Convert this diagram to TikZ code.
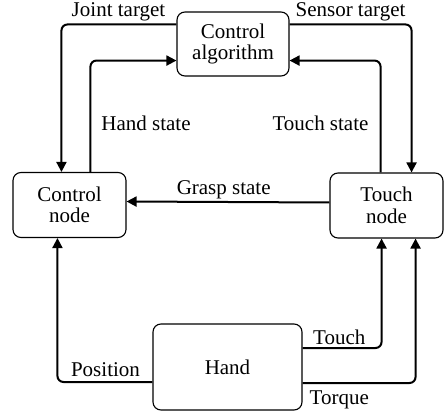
\documentclass[tikz,border=0pt]{standalone}
\usepackage{fontspec}
\setmainfont{Liberation Serif}
\usetikzlibrary{arrows.meta,calc}
\begin{document}
\begin{tikzpicture}[x=1pt,y=1pt,
  every node/.style={font=\fontsize{21}{21.5}\selectfont, inner sep=0pt},
  block/.style={draw, line width=1.1pt, rounded corners=8pt, align=center},
  conn/.style={line width=2pt, rounded corners=6pt, -{Triangle[length=10pt,width=10pt]}},
  lbl/.style={anchor=base}]
\useasboundingbox (0,0) rectangle (444,-414);

% blocks
\node[block, minimum width=112pt, minimum height=64pt] (alg) at (233,-44) {Control\\algorithm};
\node[block, minimum width=113pt, minimum height=65pt] (ctrl) at (69.5,-205) {Control\\node};
\node[block, minimum width=113pt, minimum height=65pt] (touch) at (386.5,-205.5) {Touch\\node};
\node[block, minimum width=149pt, minimum height=86pt] (hand) at (227.5,-367) {Hand};

% connectors between the algorithm and the two nodes
\draw[conn] ([yshift=-13pt]alg.north west) -| ([xshift=49pt]ctrl.north west);
\draw[conn] ([xshift=78pt]ctrl.north west) |- ([yshift=16pt]alg.south west);
\draw[conn] ([yshift=-13pt]alg.north east) -| ([xshift=-32pt]touch.north east);
\draw[conn] ([xshift=-63pt]touch.north east) |- ([yshift=16pt]alg.south east);

% grasp state
\draw[conn] ([yshift=3pt]touch.west) -- ([yshift=3.5pt]ctrl.east);

% hand outputs
\draw[conn] ([yshift=-15pt]hand.west) -| ([xshift=45pt]ctrl.south west);
\draw[conn] ([yshift=19pt]hand.east) -| ([xshift=-62pt]touch.south east);
\draw[conn] ([yshift=-16pt]hand.east) -| ([xshift=-28pt]touch.south east);

% labels
\node[lbl] (ljoint) at (118.5,-17) {Joint target};
\node[lbl] (lsensor) at (350.5,-17) {Sensor target};
\node[lbl] (lhand) at (146,-131) {Hand state};
\node[lbl] (ltouchst) at (320.5,-131) {Touch state};
\node[lbl] (lgrasp) at (223.7,-194) {Grasp state};
\node[lbl] (ltouch) at (339.3,-344) {Touch};
\node[lbl] (lpos) at (105.5,-376) {Position};
\node[lbl] (ltorque) at (339.3,-404) {Torque};
\end{tikzpicture}
\end{document}
